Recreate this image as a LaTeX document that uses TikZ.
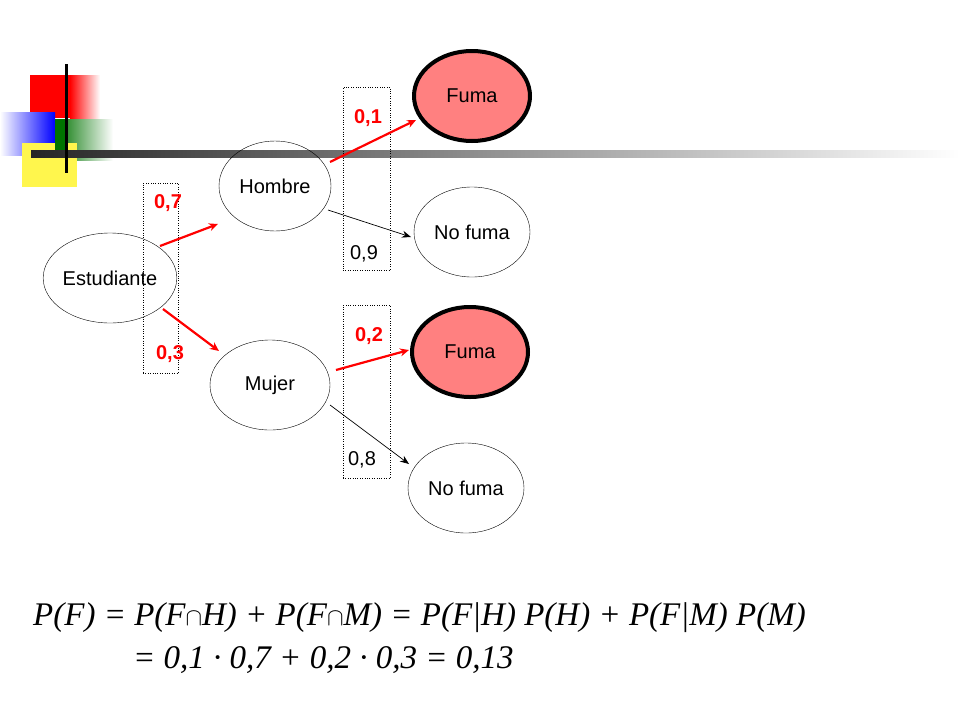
\documentclass[tikz,border=0pt]{standalone}
\usepackage{fontspec}
\setmainfont{Liberation Sans}
\newfontfamily\eqfont{Liberation Serif}
\usetikzlibrary{arrows.meta,shapes.geometric}
\begin{document}
\begin{tikzpicture}[x=1pt,y=-1pt,
  ell/.style={draw,ellipse,minimum width=116pt,minimum height=90pt,inner sep=0pt,font=\fontsize{20}{24}\selectfont},
  fum/.style={ell,fill=red!50,line width=4pt},
  prob/.style={font=\fontsize{20}{24}\selectfont},
  rprob/.style={prob,red,font=\fontsize{20}{24}\selectfont\bfseries},
  dbox/.style={draw,dotted},
  rarr/.style={red,line width=2.2pt,-{Stealth[length=9pt,width=8pt]}},
  barr/.style={black,line width=0.7pt,-{Stealth[length=9pt,width=7pt]}}]
\useasboundingbox (0,0) rectangle (960,720);
% decoration
\fill[red] (30,75) rectangle (70,118);
\shade[left color=red,right color=white] (70,75) rectangle (100,118);
\shade[left color=white,right color=blue] (0,112) rectangle (55,155);
\shade[left color=green!45!black,right color=white] (55,119) rectangle (113,160);
\fill[yellow!70] (22,143) rectangle (77,187);
\fill[green!45!black] (55,119) rectangle (65,150);
\shade[left color=black!85,right color=white] (31,150) rectangle (960,157);
\draw[line width=3pt] (66,64) -- (66,173);
% nodes
\node[ell,minimum width=120pt] (est) at (110,278) {Estudiante};
\node[ell,minimum width=112pt] (hom) at (275,186) {Hombre};
\node[ell,minimum width=120pt] (muj) at (270,385) {Mujer};
\node[fum] (f1) at (472,96) {Fuma};
\node[ell] (nf1) at (472,232) {No fuma};
\node[fum] (f2) at (470,352) {Fuma};
\node[ell] (nf2) at (466,488) {No fuma};
\node[dbox,minimum width=35pt,minimum height=190pt,inner sep=0pt] (b1) at (160.5,278) {};
\node[dbox,minimum width=47pt,minimum height=183pt,inner sep=0pt] (b2) at (366.5,178.5) {};
\node[dbox,minimum width=47pt,minimum height=173pt,inner sep=0pt] (b3) at (366.5,391.5) {};
\node[rprob] (p7) at (168,203) {0,7};
\node[rprob] (p3) at (170,354) {0,3};
\node[rprob] (p1) at (368,118) {0,1};
\node[prob] (p9) at (364,254) {0,9};
\node[rprob] (p2) at (369,336) {0,2};
\node[prob] (p8) at (362,460) {0,8};
% arrows
\coordinate (a1) at (160,246); \coordinate (a1e) at (218,224);
\coordinate (a2) at (163,309); \coordinate (a2e) at (219,351);
\coordinate (a3) at (330,162); \coordinate (a3e) at (416,120);
\coordinate (a4) at (336,370); \coordinate (a4e) at (409,350);
\coordinate (a5) at (328,210); \coordinate (a5e) at (411,237);
\coordinate (a6) at (330,405); \coordinate (a6e) at (409,464);
\draw[rarr] (a1) -- (a1e);
\draw[rarr] (a2) -- (a2e);
\draw[rarr] (a3) -- (a3e);
\draw[rarr] (a4) -- (a4e);
\draw[barr] (a5) -- (a5e);
\draw[barr] (a6) -- (a6e);
% equation
\node[anchor=west,font=\eqfont\itshape\fontsize{33}{38}\selectfont,inner sep=0pt] (eq1) at (33,618) {P(F) = P(F$\cap$H) + P(F$\cap$M) = P(F|H) P(H) + P(F|M) P(M)};
\node[anchor=west,font=\eqfont\itshape\fontsize{33}{38}\selectfont,inner sep=0pt] (eq2) at (133,660) {= 0,1 · 0,7 + 0,2 · 0,3 = 0,13};
\end{tikzpicture}
\end{document}
